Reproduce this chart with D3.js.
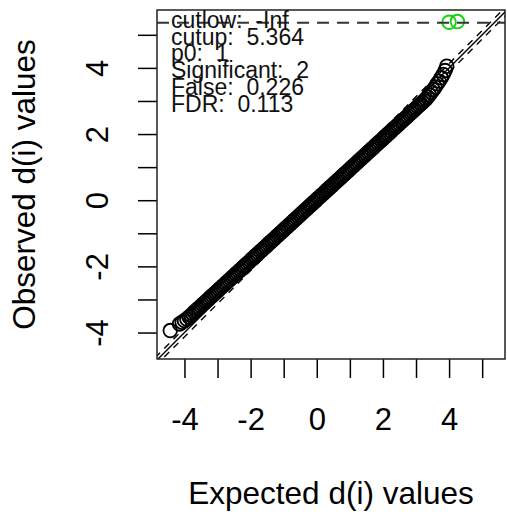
<!DOCTYPE html>
<html>
<head>
<meta charset="utf-8">
<script src="https://cdn.jsdelivr.net/npm/d3@7"></script>
<style>
  body { margin: 0; background: #fff; }
  svg { display: block; font-family: "Liberation Sans", Arial, sans-serif; }
  .stats text { white-space: pre; }
</style>
</head>
<body>
<div id="chart"></div>
<script>
// SAM plot: observed vs expected d(i) values

// non-significant genes (read along the black band)
var expected = [
  -4.43, -4.15, -4.07, -4.00, -3.93, -3.86,
  -3.80, -3.75, -3.70, -3.65, -3.60, -3.55, -3.50, -3.45, -3.40, -3.35,
  -3.30, -3.25, -3.20, -3.15, -3.10, -3.05, -3.00, -2.95, -2.90, -2.85,
  -2.80, -2.75, -2.70, -2.65, -2.60, -2.55, -2.50, -2.45, -2.40, -2.35,
  -2.30, -2.25, -2.20, -2.15, -2.10, -2.05, -2.00, -1.95, -1.90, -1.85,
  -1.80, -1.75, -1.70, -1.65, -1.60, -1.55, -1.50, -1.45, -1.40, -1.35,
  -1.30, -1.25, -1.20, -1.15, -1.10, -1.05, -1.00, -0.95, -0.90, -0.85,
  -0.80, -0.75, -0.70, -0.65, -0.60, -0.55, -0.50, -0.45, -0.40, -0.35,
  -0.30, -0.25, -0.20, -0.15, -0.10, -0.05, 0.00, 0.05, 0.10, 0.15,
  0.20, 0.25, 0.30, 0.35, 0.40, 0.45, 0.50, 0.55, 0.60, 0.65,
  0.70, 0.75, 0.80, 0.85, 0.90, 0.95, 1.00, 1.05, 1.10, 1.15,
  1.20, 1.25, 1.30, 1.35, 1.40, 1.45, 1.50, 1.55, 1.60, 1.65,
  1.70, 1.75, 1.80, 1.85, 1.90, 1.95, 2.00, 2.05, 2.10, 2.15,
  2.20, 2.25, 2.30, 2.35, 2.40, 2.45, 2.50, 2.55, 2.60, 2.65,
  2.70, 2.75, 2.80, 2.85, 2.90, 2.95, 3.00, 3.05, 3.10, 3.15,
  3.20, 3.25, 3.30,
  3.35, 3.40, 3.46, 3.52, 3.58, 3.64, 3.70, 3.76, 3.82, 3.88, 3.93
];
var observed = [
  -3.94, -3.74, -3.69, -3.64, -3.59, -3.53,
  -3.48, -3.43, -3.38, -3.34, -3.29, -3.25, -3.20, -3.15, -3.11, -3.06,
  -3.02, -2.97, -2.92, -2.88, -2.83, -2.79, -2.74, -2.69, -2.65, -2.60,
  -2.56, -2.51, -2.46, -2.42, -2.37, -2.33, -2.28, -2.23, -2.19, -2.14,
  -2.10, -2.05, -2.00, -1.96, -1.91, -1.87, -1.82, -1.77, -1.73, -1.68,
  -1.64, -1.59, -1.54, -1.50, -1.45, -1.41, -1.36, -1.31, -1.27, -1.22,
  -1.18, -1.13, -1.08, -1.04, -0.99, -0.95, -0.90, -0.85, -0.81, -0.76,
  -0.72, -0.67, -0.62, -0.58, -0.53, -0.49, -0.44, -0.39, -0.35, -0.30,
  -0.26, -0.21, -0.16, -0.12, -0.07, -0.03, 0.02, 0.07, 0.11, 0.16,
  0.20, 0.25, 0.30, 0.34, 0.39, 0.43, 0.48, 0.53, 0.57, 0.62,
  0.66, 0.71, 0.76, 0.80, 0.85, 0.89, 0.94, 0.99, 1.03, 1.08,
  1.12, 1.17, 1.22, 1.26, 1.31, 1.35, 1.40, 1.45, 1.49, 1.54,
  1.58, 1.63, 1.68, 1.72, 1.77, 1.81, 1.86, 1.91, 1.95, 2.00,
  2.04, 2.09, 2.14, 2.18, 2.23, 2.27, 2.32, 2.37, 2.41, 2.46,
  2.50, 2.55, 2.60, 2.64, 2.69, 2.73, 2.78, 2.83, 2.87, 2.92,
  2.96, 3.01, 3.06,
  3.12, 3.18, 3.26, 3.34, 3.42, 3.52, 3.60, 3.70, 3.80, 3.92, 4.05
];

// significant genes (green)
var sigExpected = [4.00, 4.25];
var sigObserved = [5.38, 5.40];

// thresholds
var delta = 0.13;
var cutup = 5.364;

// summary text
var statLabels = ["cutlow:", "cutup:", "p0:", "Significant:", "False:", "FDR:"];
var statValues = ["-Inf", "5.364", "1", "2", "0.226", "0.113"];

var tickValues = [-4, -3, -2, -1, 0, 1, 2, 3, 4, 5];
var labelledTicks = [-4, -2, 0, 2, 4];

var width = 507, height = 518;
var margin = {top: 10, right: 2, bottom: 159, left: 157};
var w = width - margin.left - margin.right,
    h = height - margin.top - margin.bottom;

var x = d3.scaleLinear().domain([-4.83, 5.69]).range([0, w]);
var y = d3.scaleLinear().domain([-4.80, 5.75]).range([h, 0]);

var svg = d3.select("#chart").append("svg")
    .attr("width", width)
    .attr("height", height);

var g = svg.append("g")
    .attr("transform", "translate(" + margin.left + "," + margin.top + ")");

g.append("clipPath")
    .attr("id", "plotArea")
  .append("rect")
    .attr("width", w)
    .attr("height", h);

var inner = g.append("g").attr("clip-path", "url(#plotArea)");

// points
var pts = expected.map((e, i) => ({x: e, y: observed[i]}));
inner.selectAll("circle.gene")
    .data(pts)
  .enter().append("circle")
    .attr("class", "gene")
    .attr("cx", d => x(d.x))
    .attr("cy", d => y(d.y))
    .attr("r", 6.8)
    .attr("fill", "none")
    .attr("stroke", "#000")
    .attr("stroke-width", 1.8);

var sig = sigExpected.map((e, i) => ({x: e, y: sigObserved[i]}));
inner.selectAll("circle.sig")
    .data(sig)
  .enter().append("circle")
    .attr("class", "sig")
    .attr("cx", d => x(d.x))
    .attr("cy", d => y(d.y))
    .attr("r", 6.8)
    .attr("fill", "none")
    .attr("stroke", "#14d214")
    .attr("stroke-width", 1.9);

// diagonal and delta lines
var lo = -6, hi = 7;
[0, delta, -delta].forEach(off => {
  inner.append("line")
      .attr("x1", x(lo)).attr("y1", y(lo + off))
      .attr("x2", x(hi)).attr("y2", y(hi + off))
      .attr("stroke", "#000")
      .attr("stroke-width", 1.4)
      .attr("stroke-dasharray", off == 0 ? null : "7,6");
});

// cutup line
inner.append("line")
    .attr("x1", 0).attr("x2", w)
    .attr("y1", y(cutup)).attr("y2", y(cutup))
    .attr("stroke", "#333")
    .attr("stroke-width", 2)
    .attr("stroke-dasharray", "12,8");

// axes
var xAxis = d3.axisBottom(x)
    .tickValues(tickValues)
    .tickSize(19)
    .tickFormat(d => labelledTicks.indexOf(d) >= 0 ? d : "");
var yAxis = d3.axisLeft(y)
    .tickValues(tickValues)
    .tickSize(19)
    .tickFormat(d => labelledTicks.indexOf(d) >= 0 ? d : "");

var gx = g.append("g")
    .attr("transform", "translate(0," + h + ")")
    .call(xAxis);
gx.select(".domain").remove();
gx.selectAll("line").attr("stroke", "#000").attr("stroke-width", 1.5);
gx.selectAll("text")
    .attr("y", 71)
    .attr("dy", null)
    .attr("fill", "#000")
    .style("font-size", "31px")
    .style("font-family", "Liberation Sans, Arial, sans-serif");

var gy = g.append("g").call(yAxis);
gy.select(".domain").remove();
gy.selectAll("line").attr("stroke", "#000").attr("stroke-width", 1.5);
gy.selectAll("text")
    .attr("transform", "rotate(-90)")
    .attr("x", 0)
    .attr("y", -49)
    .attr("dy", null)
    .attr("text-anchor", "middle")
    .attr("fill", "#000")
    .style("font-size", "31px")
    .style("font-family", "Liberation Sans, Arial, sans-serif");

// box
g.append("rect")
    .attr("width", w)
    .attr("height", h)
    .attr("fill", "none")
    .attr("stroke", "#222")
    .attr("stroke-width", 1.5);

// summary text, top left (lines overlap as in the original)
var stats = g.append("g").attr("class", "stats");
statLabels.forEach((s, i) => {
  stats.append("text")
      .attr("x", 14)
      .attr("y", 18 + i * 16.7)
      .style("font-size", "23px")
      .attr("fill", "#111")
      .text(s + "  " + statValues[i]);
});

// axis titles
svg.append("text")
    .attr("x", margin.left + w / 2)
    .attr("y", 504)
    .attr("text-anchor", "middle")
    .style("font-size", "31.5px")
    .text("Expected d(i) values");

svg.append("text")
    .attr("transform", "translate(34.5," + (margin.top + h / 2) + ") rotate(-90)")
    .attr("text-anchor", "middle")
    .style("font-size", "31.5px")
    .text("Observed d(i) values");
</script>
</body>
</html>
